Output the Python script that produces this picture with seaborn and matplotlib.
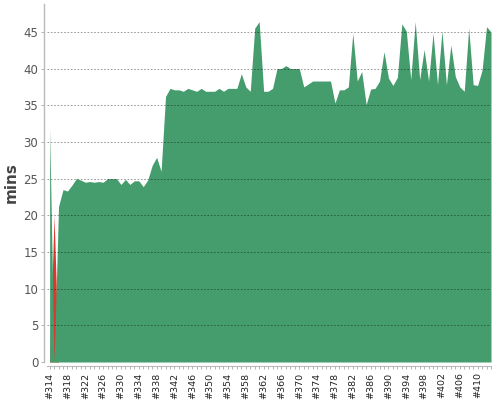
import matplotlib
matplotlib.use("Agg")
import matplotlib.pyplot as plt
from matplotlib.ticker import MultipleLocator
import seaborn as sns

# build numbers and durations (minutes)
builds = list(range(314, 414))
success_mins = [
    32.0, 0.0, 21.2, 23.5, 23.3, 24.1, 25.0, 24.8, 24.5, 24.6,
    24.5, 24.6, 24.5, 25.0, 25.0, 25.0, 24.2, 24.9, 24.2, 24.7,
    24.7, 23.9, 24.8, 26.8, 27.9, 26.0, 36.2, 37.3, 37.1, 37.1,
    36.9, 37.3, 37.1, 36.9, 37.3, 36.9, 36.9, 36.9, 37.3, 36.9,
    37.3, 37.3, 37.3, 39.3, 37.5, 36.9, 45.5, 46.4, 36.9, 36.9,
    37.3, 40.0, 40.0, 40.4, 40.0, 40.0, 40.0, 37.5, 37.9, 38.3,
    38.3, 38.3, 38.3, 38.3, 35.3, 37.1, 37.1, 37.5, 44.8, 38.3,
    39.6, 35.1, 37.2, 37.3, 38.3, 42.3, 38.7, 37.7, 38.8, 46.1,
    45.1, 38.5, 46.4, 38.5, 42.6, 38.3, 44.8, 37.8, 45.1, 37.8,
    43.2, 38.9, 37.5, 36.9, 45.5, 37.8, 37.7, 39.8, 45.7, 45.0,
]
failed_mins = [0.0] * len(builds)
failed_mins[1] = 20.0

tick_builds = builds[::4]
tick_labels = ["#%d" % b for b in tick_builds]

sns.set_theme(style="white")
plt.rcParams['font.family'] = ['DejaVu Sans']

fig = plt.figure(figsize=(5, 4), dpi=100)
ax = fig.add_axes([0.093, 0.095, 0.889, 0.895])

ax.fill_between(builds, 0, failed_mins, color="#d93a2f", linewidth=0, zorder=1)
ax.fill_between(builds, 0, success_mins, color="#459c6d", linewidth=0, zorder=2)

ax.set_xlim(313.3, 413)
ax.set_ylim(0, 48.8)
ax.yaxis.set_major_locator(MultipleLocator(5))
ax.set_xticks(tick_builds)
ax.set_xticklabels(tick_labels)
ax.xaxis.set_minor_locator(MultipleLocator(1))
ax.tick_params(axis="y", labelsize=8.5, labelcolor="#555555", length=2,
               width=0.6, color="#aaaaaa", left=True, pad=2)
ax.tick_params(axis="x", which="both", length=2.5, width=0.6,
               color="#aaaaaa", bottom=True, pad=2)
ax.tick_params(axis="x", which="major", labelsize=6.8, labelcolor="#222222",
               labelrotation=90)

ax.yaxis.grid(True, linestyle=(0, (2, 2)), color="black", alpha=0.45,
              linewidth=0.6, zorder=3)
ax.set_axisbelow(False)

sns.despine(ax=ax)
ax.spines["left"].set_color("#bbbbbb")
ax.spines["bottom"].set_color("#bbbbbb")
ax.spines["left"].set_position(("outward", 2))
ax.spines["bottom"].set_position(("outward", 3))
ax.spines["left"].set_linewidth(1.0)
ax.spines["bottom"].set_linewidth(0.8)

ax.set_ylabel("mins", fontsize=11, fontweight="bold", color="#444444", labelpad=3)
ax.set_xlabel("")

fig.savefig("out.png", dpi=100)
